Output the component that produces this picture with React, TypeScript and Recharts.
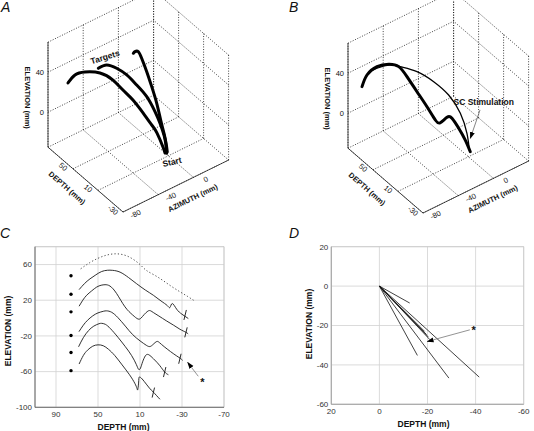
import { CartesianGrid, ReferenceArea, Scatter, ScatterChart, XAxis, YAxis } from "recharts";

type Point3 = [number, number, number];
type Point2 = [number, number];

// ---- panels A & B: 3D box, azimuth / depth / elevation (mm) ----
const azimuthRange = [-80, 40];
const depthRange = [-30, 90];
const elevationRange = [-35, 70];
const azimuthGrid = [-80, -40, 0, 40];
const depthGrid = [90, 50, 10, -30];
const elevationGrid = [0, 40, 70];
const azimuthLabels = [-80, -40, 0];
const depthLabels = [50, 10, -30];
const elevationLabels = [40, 0];

// A: three movements from the start point to the targets
const pathA1: Point3[] = [
  [-11.0, 0, -22.1], [-9.7, 5, -19.3], [-11.5, 12, -8.4], [-14.7, 16, -1.1], [-20.3, 22, 10.1],
  [-28.2, 27, 23.8], [-36, 32, 34.4], [-43.8, 37, 45.1], [-55, 42, 54.3], [-66.4, 50, 55.9],
  [-74.2, 55, 53.6], [-78.6, 60, 44.8],
];
const pathA2: Point3[] = [
  [-9.0, 0, -23.2], [-6.6, 5, -17], [-5, 10, -12.1], [-5.3, 16, -3.4], [-6.7, 22, 5.5],
  [-11.1, 29, 18.6], [-18.3, 35, 30.2], [-25.3, 41, 40], [-33.2, 46, 47.4], [-41, 51, 51.4],
  [-47.7, 55, 48.8],
];
const pathA3: Point3[] = [
  [-8.4, 0, -21.9], [-6.2, 5, -17.2], [-5, 10, -10.4], [-3.8, 17, -1.4], [-2.6, 25, 10.5],
  [-2.6, 33, 22.8], [-2.6, 41, 33.5], [-3.4, 48, 43.4], [-4.4, 52, 48.3], [-7.4, 53, 49.1],
  [-9.3, 53, 48.3],
];
const targetsNote: Point3 = [-36.5, 60, 52.6];
const startNote: Point3 = [-3, 0, -34.5];

// B: control movement vs. movement with SC stimulation
const controlB: Point3[] = [
  [-79.7, 68, 38.3], [-76.9, 64, 50.9], [-69.8, 58, 57.8], [-60.3, 50, 61.3], [-53.2, 44, 59.7],
  [-40.7, 35, 54.2], [-28.8, 25, 44.4], [-18.9, 15, 32.2], [-12.7, 5, 16.7], [-12.3, -5, 1.9],
  [-16.7, -15, -7.5],
];
const stimulatedB: Point3[] = [
  [-79.7, 68, 38.3], [-76.9, 64, 50.9], [-69.8, 58, 59.4], [-60.7, 52, 61], [-53.6, 46, 58.9],
  [-48.5, 40, 49.9], [-42.8, 32, 36.7], [-37.1, 24, 23.5], [-32.6, 17, 12.1], [-29.1, 14, 9.5],
  [-24.3, 10, 15], [-20.8, 7, 14.1], [-17.4, 1, 5.9], [-14.9, -6, -3.2], [-15.6, -15, -9.7],
];
const stimNote: Point3 = [-3.9, -20, 37.3];
const stimArrow: Point3[] = [[-8.1, -20, 31.5], [-19.1, -20, 7.9]];

// ---- panel C: depth vs elevation ----
const cDepthTicks = [90, 50, 10, -30, -70];
const cElevationTicks = [60, 20, -20, -60, -100];
const cControl: Point2[] = [
  [66.5, 55.2], [58, 62], [50, 67], [42, 70.5], [34, 72], [26, 71], [18, 67], [10, 60], [4, 53.5],
  [-4, 48], [-12, 42], [-20, 35.5], [-28, 29.5], [-35, 24.5], [-41, 20],
];
const cStim1: Point2[] = [
  [68, 31.9], [63, 38.5], [57.6, 44], [52, 48.5], [46.5, 52.2], [41, 53.6], [36, 53.5], [29, 51.5],
  [21, 45.5], [13.2, 38.5], [5, 31.5], [-2.7, 25.6], [-10, 19.2], [-16, 14], [-18.6, 11.9],
  [-20.8, 16.3], [-24.9, 10], [-30, 4.3], [-36, -0.5],
];
const cStim2: Point2[] = [
  [68, 13.3], [64.5, 20], [60.8, 25.6], [56, 30.5], [51.2, 34.8], [47, 36.8], [43.3, 37.4],
  [38.6, 35.9], [32.2, 27.4], [24.3, 12.6], [17, 3.5], [12, -1], [9, 0], [6, 4], [2.5, 7.8], [0, 8.2],
  [-3, 6], [-8, 2.3], [-15, -3], [-22, -8], [-28, -12.5], [-33.8, -16], [-36, -18],
];
const cStim3: Point2[] = [
  [68.1, -15.2], [64, -8], [60, -2.5], [55, 2.5], [50, 5.8], [45, 7.6], [41.7, 8.1], [37, 6.5],
  [31, 0.5], [24, -9], [17, -18.5], [10, -25.5], [4, -30.5], [0.5, -31.9], [-2.5, -29.5],
  [-5.9, -26.3], [-8.5, -27.5], [-13, -32], [-19, -37.5], [-25, -42.5], [-28.5, -45.2], [-30.6, -47.4],
];
const cStim4: Point2[] = [
  [68.5, -32.2], [64, -22], [59, -14], [54, -9], [49, -6.3], [46.5, -5.9], [43, -7], [38, -12],
  [31, -21.5], [24, -32], [18, -42], [13.5, -52], [11.3, -57.5], [9.5, -56], [7.5, -49], [5, -42.5],
  [3, -40.7], [0.5, -42], [-4, -47], [-9, -53.5], [-13.5, -60.5], [-17, -63.5],
];
const cStim5: Point2[] = [
  [68, -51.5], [64, -42], [60, -36], [55, -31.5], [50, -30], [45, -31], [40, -35], [34, -42],
  [27, -52.5], [20, -63.5], [15, -73], [12.8, -79], [12.2, -80.5], [11.6, -76], [11.2, -70],
  [10.9, -66.5], [9.5, -66.5], [6, -71], [1, -78.5], [-2.7, -83], [-9, -91],
];
const cTargetDepth = 75.7;
const cTargetElevations = [47.4, 26.7, 7, -19.6, -38.5, -58.9];
const cEndMarks: Point2[] = [[-33, 3.5], [-33.8, -16], [-28, -45.6], [-13.5, -60.5], [-2.7, -83.5]];
const cArrow: Point2[] = [[-45.5, -65.2], [-35.4, -49.7]];
const cStar: Point2 = [-49.5, -69];

// ---- panel D: initial direction of each movement ----
const dTicks = [20, 0, -20, -40, -60];
const dOrigin: Point2 = [0, 0];
const dEndpoints: Point2[] = [
  [-12.6, -8.6], [-15.8, -35.2], [-28.9, -46.7], [-41.5, -46.2],
  [-18.8, -23], [-19.6, -24.6], [-20.3, -25.8], [-21, -27.2],
];
const dArrow: Point2[] = [[-37.6, -22.2], [-19.9, -28.1]];
const dStar: Point2 = [-39.2, -21.2];

const FONT = "'Liberation Sans', Arial, Helvetica, sans-serif";
const PANEL_H = 222;
const noMarker = () => <g />;

type XY = { x: number; y: number };

function projector(ox: number, oy: number) {
  return ([az, depth, elev]: Point3): XY => {
    const a = az - azimuthRange[0];
    const d = depth - depthRange[0];
    const e = elev - elevationRange[0];
    return { x: ox + 0.88 * a - 0.625 * d, y: oy - 0.433 * a - 0.54 * d - e };
  };
}

function textShape(anchor: "start" | "middle" | "end", dx: number, dy: number, angle: number, size: number, weight = "normal") {
  return (props: any) => {
    const x = props.cx + dx;
    const y = props.cy + dy;
    const text = props.payload?.text ?? props.text;
    return (
      <text
        x={x}
        y={y}
        textAnchor={anchor}
        dominantBaseline="central"
        fontFamily={FONT}
        fontSize={size}
        fontWeight={weight}
        fill="#111"
        transform={angle ? `rotate(${angle} ${x} ${y})` : undefined}
      >
        {text}
      </text>
    );
  };
}

interface Note {
  at: Point3;
  text: string;
  angle: number;
}

interface BoxProps {
  ox: number;
  oy: number;
  width: number;
  heavy: Point3[][];
  light: Point3[][];
  notes: Note[];
  arrow?: Point3[];
}

function TrajectoryBox({ ox, oy, width, heavy, light, notes, arrow }: BoxProps) {
  const p = projector(ox, oy);
  const [az0, az1] = azimuthRange;
  const [d0, d1] = depthRange;
  const [e0, e1] = elevationRange;
  const seg = (a: Point3, b: Point3) => [p(a), p(b)];

  const dotted = [
    ...azimuthGrid.flatMap((az) => [seg([az, d0, e0], [az, d1, e0]), seg([az, d1, e0], [az, d1, e1])]),
    ...depthGrid.flatMap((d) => [seg([az0, d, e0], [az1, d, e0]), seg([az1, d, e0], [az1, d, e1])]),
    ...elevationGrid.flatMap((e) => [seg([az0, d1, e], [az1, d1, e]), seg([az1, d0, e], [az1, d1, e])]),
  ];
  const axes = [
    seg([az0, d1, e0], [az0, d1, e1]),
    seg([az0, d1, e0], [az0, d0, e0]),
    seg([az0, d0, e0], [az1, d0, e0]),
  ];

  const elevText = elevationLabels.map((e) => ({ ...p([az0, d1, e]), text: String(e) }));
  const depthText = depthLabels.map((d) => ({ ...p([az0, d, e0]), text: String(d) }));
  const azText = azimuthLabels.map((a) => ({ ...p([a, d0, e0]), text: String(a) }));
  const elevTitle = [{ ...p([az0, d1, (e0 + e1) / 2]), text: "ELEVATION (mm)" }];
  const depthTitle = [{ ...p([az0, (d0 + d1) / 2, e0]), text: "DEPTH (mm)" }];
  const azTitle = [{ ...p([(az0 + az1) / 2, d0, e0]), text: "AZIMUTH (mm)" }];

  return (
    <ScatterChart width={width} height={PANEL_H} margin={{ top: 0, right: 0, bottom: 0, left: 0 }}>
      <XAxis type="number" dataKey="x" domain={[0, width]} hide allowDataOverflow />
      <YAxis type="number" dataKey="y" domain={[0, PANEL_H]} reversed hide allowDataOverflow />
      {dotted.map((s, i) => (
        <Scatter
          key={`grid-${i}`}
          data={s}
          line={{ stroke: "#111", strokeWidth: 0.8, strokeDasharray: "1 1.6" }}
          shape={noMarker}
          isAnimationActive={false}
        />
      ))}
      {axes.map((s, i) => (
        <Scatter key={`axis-${i}`} data={s} line={{ stroke: "#222", strokeWidth: 0.8 }} shape={noMarker} isAnimationActive={false} />
      ))}
      {light.map((path, i) => (
        <Scatter
          key={`light-${i}`}
          data={path.map(p)}
          line={{ stroke: "#000", strokeWidth: 1.3 }}
          lineJointType="natural"
          shape={noMarker}
          isAnimationActive={false}
        />
      ))}
      {heavy.map((path, i) => (
        <Scatter
          key={`heavy-${i}`}
          data={path.map(p)}
          line={{ stroke: "#000", strokeWidth: 3, strokeLinecap: "round", strokeLinejoin: "round" }}
          lineJointType="natural"
          shape={noMarker}
          isAnimationActive={false}
        />
      ))}
      {arrow && (
        <Scatter
          data={arrow.map(p)}
          line={{ stroke: "#666", strokeWidth: 0.8, markerEnd: "url(#arrowhead)" }}
          shape={noMarker}
          isAnimationActive={false}
        />
      )}
      <Scatter data={elevText} shape={textShape("end", -4, 0, 0, 7.5)} isAnimationActive={false} />
      <Scatter data={depthText} shape={textShape("middle", -10, -2, 40, 7.5)} isAnimationActive={false} />
      <Scatter data={azText} shape={textShape("middle", 12.5, 2, -26, 7.5)} isAnimationActive={false} />
      <Scatter data={elevTitle} shape={textShape("middle", -21, 3, 90, 7.5, "bold")} isAnimationActive={false} />
      <Scatter data={depthTitle} shape={textShape("middle", -18.5, 8.4, 41, 7.5, "bold")} isAnimationActive={false} />
      <Scatter data={azTitle} shape={textShape("middle", 17, 12, -26, 7.5, "bold")} isAnimationActive={false} />
      {notes.map((n, i) => (
        <Scatter
          key={`note-${i}`}
          data={[{ ...p(n.at), text: n.text }]}
          shape={textShape("middle", 0, 0, n.angle, 8.5, "bold")}
          isAnimationActive={false}
        />
      ))}
    </ScatterChart>
  );
}

const toXY = (pts: Point2[]) => pts.map(([x, y]) => ({ x, y }));

const tickStyle = { fontSize: 8, fill: "#333", fontFamily: FONT };

function yTitle(x: number, shift: number) {
  return (props: any) => {
    const vb = props.viewBox ?? {};
    const cy = (vb.y ?? 0) + (vb.height ?? 0) / 2 + shift;
    return (
      <text
        x={x}
        y={cy}
        transform={`rotate(-90 ${x} ${cy})`}
        textAnchor="middle"
        dominantBaseline="central"
        fontFamily={FONT}
        fontSize={8.5}
        fontWeight="bold"
        fill="#111"
      >
        ELEVATION (mm)
      </text>
    );
  };
}

const endMark = (props: any) => (
  <line x1={props.cx + 1.2} y1={props.cy - 5} x2={props.cx - 1.2} y2={props.cy + 5} stroke="#111" strokeWidth={0.9} />
);
const targetDot = (props: any) => <circle cx={props.cx} cy={props.cy} r={1.7} fill="#000" />;
const star = (props: any) => (
  <text x={props.cx} y={props.cy + 6} textAnchor="middle" fontFamily={FONT} fontSize={11} fontWeight="bold" fill="#111">
    *
  </text>
);

function DepthElevationChart() {
  const stims = [cStim1, cStim2, cStim3, cStim4, cStim5];
  return (
    <ScatterChart width={240} height={191} margin={{ top: 6.7, right: 16, bottom: 0, left: 0 }}>
      <CartesianGrid stroke="#d2d2d2" strokeWidth={0.8} />
      <ReferenceArea x1={110} x2={-70} y1={-100} y2={80} fill="none" stroke="#c8c8c8" strokeWidth={0.8} />
      <XAxis
        type="number"
        dataKey="x"
        domain={[-70, 110]}
        reversed
        ticks={cDepthTicks}
        interval={0}
        height={23.7}
        tickLine={false}
        tickSize={0}
        tickMargin={4}
        axisLine={{ stroke: "#555", strokeWidth: 0.8 }}
        tick={tickStyle}
        allowDataOverflow
        label={{ value: "DEPTH (mm)", position: "insideBottom", offset: 1.3, dx: -6, fontSize: 8.5, fontWeight: "bold", fill: "#111", fontFamily: FONT }}
      />
      <YAxis
        type="number"
        dataKey="y"
        domain={[-100, 80]}
        ticks={cElevationTicks}
        interval={0}
        width={35}
        tickLine={false}
        tickSize={0}
        tickMargin={3}
        axisLine={{ stroke: "#555", strokeWidth: 0.8 }}
        tick={tickStyle}
        allowDataOverflow
        label={yTitle(8.3, 4)}
      />
      <Scatter
        data={toXY(cControl)}
        line={{ stroke: "#333", strokeWidth: 0.9, strokeDasharray: "1.2 2.2" }}
        lineJointType="natural"
        shape={noMarker}
        isAnimationActive={false}
      />
      {stims.map((c, i) => (
        <Scatter
          key={`stim-${i}`}
          data={toXY(c)}
          line={{ stroke: "#1a1a1a", strokeWidth: 0.9 }}
          lineJointType="natural"
          shape={noMarker}
          isAnimationActive={false}
        />
      ))}
      <Scatter data={cTargetElevations.map((e) => ({ x: cTargetDepth, y: e }))} shape={targetDot} isAnimationActive={false} />
      <Scatter data={toXY(cEndMarks)} shape={endMark} isAnimationActive={false} />
      <Scatter
        data={toXY(cArrow)}
        line={{ stroke: "#777", strokeWidth: 0.8, markerEnd: "url(#arrowhead)" }}
        shape={noMarker}
        isAnimationActive={false}
      />
      <Scatter data={toXY([cStar])} shape={star} isAnimationActive={false} />
    </ScatterChart>
  );
}

function DirectionChart() {
  return (
    <ScatterChart width={267} height={191} margin={{ top: 6.7, right: 10.3, bottom: 0, left: 0 }}>
      <CartesianGrid stroke="#d2d2d2" strokeWidth={0.8} />
      <ReferenceArea x1={20} x2={-60} y1={-60} y2={20} fill="none" stroke="#c8c8c8" strokeWidth={0.8} />
      <XAxis
        type="number"
        dataKey="x"
        domain={[-60, 20]}
        reversed
        ticks={dTicks}
        interval={0}
        height={26.7}
        tickLine={false}
        tickSize={0}
        tickMargin={4.5}
        axisLine={{ stroke: "#999", strokeWidth: 0.8 }}
        tick={tickStyle}
        allowDataOverflow
        label={{ value: "DEPTH (mm)", position: "insideBottom", offset: 4.5, dx: -4, fontSize: 8.5, fontWeight: "bold", fill: "#111", fontFamily: FONT }}
      />
      <YAxis
        type="number"
        dataKey="y"
        domain={[-60, 20]}
        ticks={dTicks}
        interval={0}
        width={64.3}
        tickLine={false}
        tickSize={0}
        tickMargin={3}
        axisLine={{ stroke: "#999", strokeWidth: 0.8 }}
        tick={tickStyle}
        allowDataOverflow
        label={yTitle(41.7, -1.5)}
      />
      {dEndpoints.map((end, i) => (
        <Scatter
          key={`dir-${i}`}
          data={toXY([dOrigin, end])}
          line={{ stroke: "#111", strokeWidth: 0.8 }}
          shape={noMarker}
          isAnimationActive={false}
        />
      ))}
      <Scatter
        data={toXY(dArrow)}
        line={{ stroke: "#777", strokeWidth: 0.8, markerEnd: "url(#arrowhead)" }}
        shape={noMarker}
        isAnimationActive={false}
      />
      <Scatter data={toXY([dStar])} shape={star} isAnimationActive={false} />
    </ScatterChart>
  );
}

const panelLetter = { position: "absolute" as const, fontFamily: FONT, fontStyle: "italic", fontSize: 14, lineHeight: "14px", color: "#111" };

export default function App() {
  return (
    <div style={{ position: "absolute", left: 0, top: 0, width: 534, height: 431, background: "#fff", overflow: "hidden" }}>
      <svg width={0} height={0} style={{ position: "absolute" }}>
        <defs>
          <marker id="arrowhead" viewBox="0 0 10 10" refX={9} refY={5} markerWidth={7} markerHeight={7} markerUnits="userSpaceOnUse" orient="auto">
            <path d="M0,1.5 L10,5 L0,8.5 Z" fill="#000" />
          </marker>
        </defs>
      </svg>
      <div style={{ position: "absolute", left: 0, top: 0 }}>
        <TrajectoryBox
          ox={123}
          oy={212}
          width={267}
          heavy={[pathA1, pathA2, pathA3]}
          light={[]}
          notes={[
            { at: targetsNote, text: "Targets", angle: -17 },
            { at: startNote, text: "Start", angle: -13 },
          ]}
        />
      </div>
      <div style={{ position: "absolute", left: 267, top: 0 }}>
        <TrajectoryBox
          ox={156}
          oy={213}
          width={267}
          heavy={[stimulatedB]}
          light={[controlB]}
          notes={[{ at: stimNote, text: "SC Stimulation", angle: 0 }]}
          arrow={stimArrow}
        />
      </div>
      <div style={{ position: "absolute", left: 0, top: 240 }}>
        <DepthElevationChart />
      </div>
      <div style={{ position: "absolute", left: 267, top: 240 }}>
        <DirectionChart />
      </div>
      <div style={{ ...panelLetter, left: 1, top: 0 }}>A</div>
      <div style={{ ...panelLetter, left: 289, top: 0 }}>B</div>
      <div style={{ ...panelLetter, left: 0, top: 226 }}>C</div>
      <div style={{ ...panelLetter, left: 289, top: 226 }}>D</div>
    </div>
  );
}
